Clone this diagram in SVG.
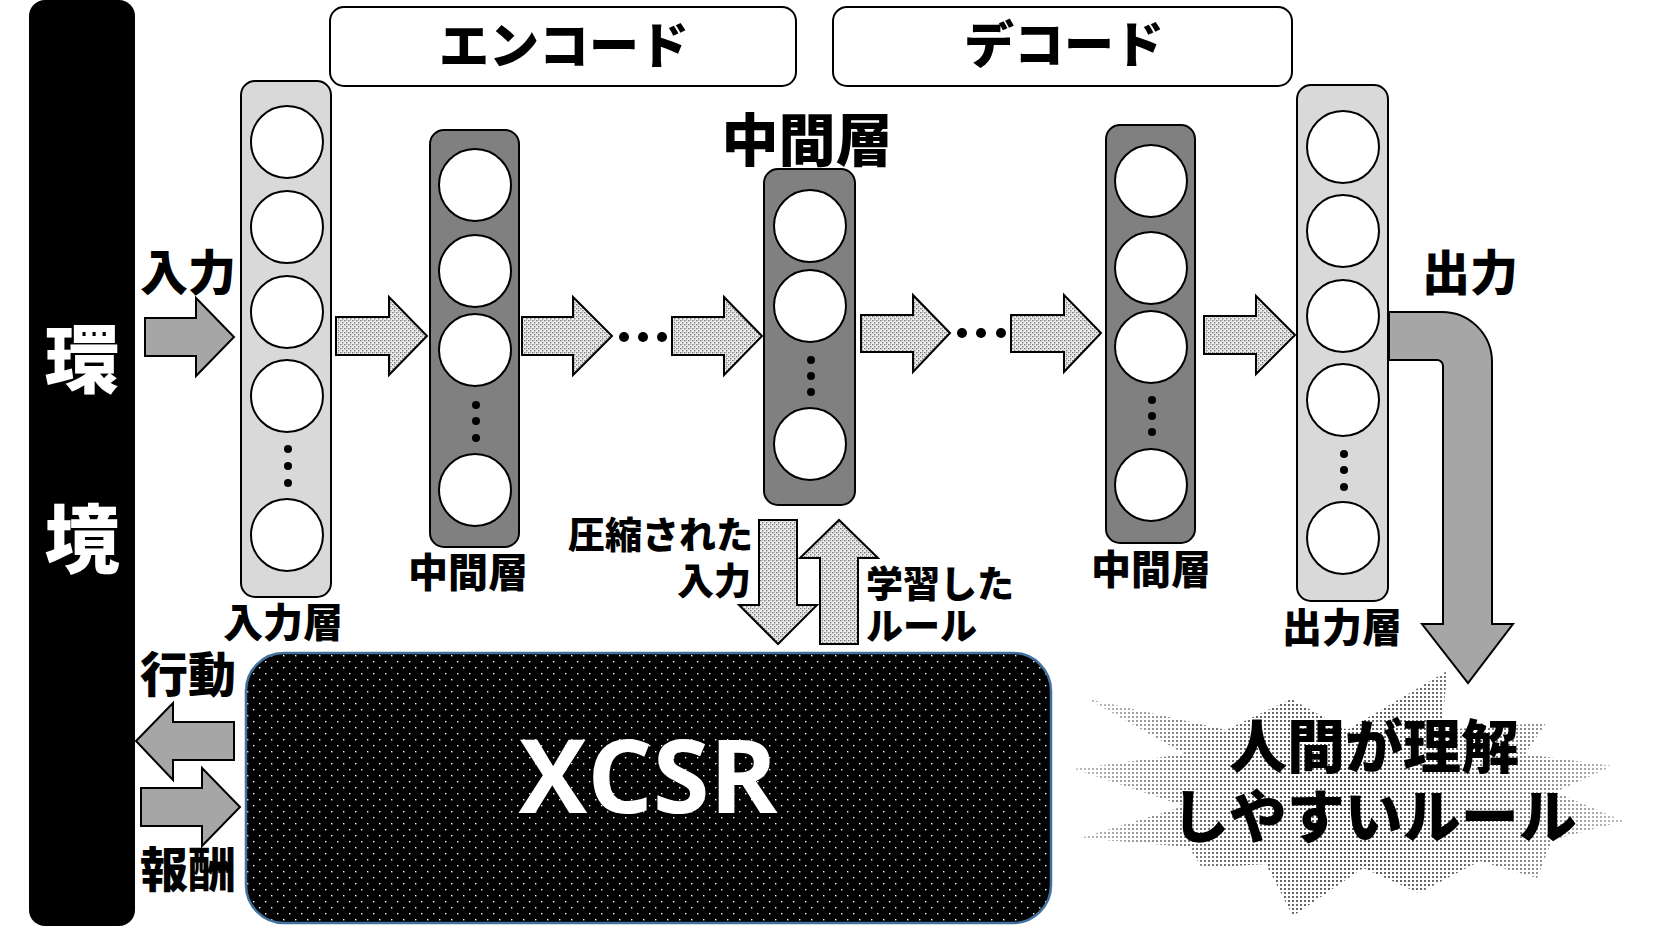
<svg xmlns="http://www.w3.org/2000/svg" width="1653" height="938" viewBox="0 0 1653 938">
<style>
.jp{font-family:"Noto Sans CJK JP","Noto Sans CJK SC",sans-serif;font-weight:900;fill:#000}
.wjp{font-family:"Noto Sans CJK JP","Noto Sans CJK SC",sans-serif;font-weight:900;fill:#fff}
.lbl{font-size:40px;text-anchor:middle}
.sm{font-size:37px}
.mid{text-anchor:middle}
.box{fill:#fff;stroke:#000;stroke-width:2}
.lt{fill:#d9d9d9;stroke:#000;stroke-width:2}
.dk{fill:#808080;stroke:#000;stroke-width:2}
.n{fill:#fff;stroke:#000;stroke-width:2}
.dot{fill:#000}
.pa{fill:url(#pArrow);stroke:#000;stroke-width:2;stroke-linejoin:miter}
.sa{fill:#a6a6a6;stroke:#000;stroke-width:2;stroke-linejoin:miter}
</style>
<defs>
<pattern id="pArrow" width="4" height="4" patternUnits="userSpaceOnUse">
<rect width="4" height="4" fill="#eeeeee"/>
<rect x="0" y="0" width="1.4" height="1.4" fill="#7a7a7a"/>
<rect x="2" y="2" width="1.4" height="1.4" fill="#7a7a7a"/>
<rect x="2" y="0" width="1" height="1" fill="#b0b0b0"/>
</pattern>
<pattern id="pX" width="12" height="12" patternUnits="userSpaceOnUse">
<rect width="12" height="12" fill="#000"/>
<rect x="1" y="1" width="1.4" height="1.4" fill="#fff"/>
<rect x="7" y="7" width="1.4" height="1.4" fill="#fff"/>
</pattern>
<pattern id="pStar" width="4" height="4" patternUnits="userSpaceOnUse">
<rect width="4" height="4" fill="#fff"/>
<rect x="0" y="0" width="2" height="2" fill="#4a4a4a"/>
</pattern>
<radialGradient id="gStar" cx="1349" cy="795" r="280" gradientUnits="userSpaceOnUse">
<stop offset="0" stop-color="#fff" stop-opacity="0"/>
<stop offset="0.5" stop-color="#fff" stop-opacity="0.2"/>
<stop offset="1" stop-color="#fff" stop-opacity="0.65"/>
</radialGradient>
</defs>
<rect width="1653" height="938" fill="#fff"/>

<g id="env">
<rect x="29" y="0" width="106" height="926" rx="16" fill="#000"/>
<text class="wjp mid" x="82" y="387" font-size="75">環</text>
<text class="wjp mid" x="82" y="567" font-size="75">境</text>
</g>

<g id="encode-label">
<rect class="box" x="330" y="7" width="466" height="79" rx="14"/>
<text class="jp mid" x="564" y="64" font-size="50">エンコード</text>
</g>
<g id="decode-label">
<rect class="box" x="833" y="7" width="459" height="79" rx="14"/>
<text class="jp mid" x="1064" y="63" font-size="50">デコード</text>
</g>

<g id="input-layer">
<rect class="lt" x="241" y="81" width="90" height="516" rx="14"/>
<circle class="n" cx="287" cy="142" r="36"/>
<circle class="n" cx="287" cy="227" r="36"/>
<circle class="n" cx="287" cy="312" r="36"/>
<circle class="n" cx="287" cy="396" r="36"/>
<circle class="dot" cx="288" cy="449" r="4"/>
<circle class="dot" cx="288" cy="466" r="4"/>
<circle class="dot" cx="288" cy="483" r="4"/>
<circle class="n" cx="287" cy="535" r="36"/>
<text class="jp lbl" x="283" y="637">入力層</text>
</g>

<g id="encoder-hidden">
<rect class="dk" x="430" y="130" width="89" height="417" rx="14"/>
<circle class="n" cx="475" cy="185" r="36"/>
<circle class="n" cx="475" cy="271" r="36"/>
<circle class="n" cx="475" cy="350" r="36"/>
<circle class="dot" cx="476" cy="405" r="4"/>
<circle class="dot" cx="476" cy="421" r="4"/>
<circle class="dot" cx="476" cy="438" r="4"/>
<circle class="n" cx="475" cy="490" r="36"/>
<text class="jp lbl" x="468" y="587">中間層</text>
</g>

<g id="center-hidden">
<text class="jp mid" x="807" y="161" font-size="57">中間層</text>
<rect class="dk" x="764" y="169" width="91" height="336" rx="14"/>
<circle class="n" cx="810" cy="226" r="36"/>
<circle class="n" cx="810" cy="306" r="36"/>
<circle class="dot" cx="811" cy="360" r="4"/>
<circle class="dot" cx="811" cy="376" r="4"/>
<circle class="dot" cx="811" cy="392" r="4"/>
<circle class="n" cx="810" cy="444" r="36"/>
</g>

<g id="decoder-hidden">
<rect class="dk" x="1106" y="125" width="89" height="418" rx="14"/>
<circle class="n" cx="1151" cy="181" r="36"/>
<circle class="n" cx="1151" cy="268" r="36"/>
<circle class="n" cx="1151" cy="347" r="36"/>
<circle class="dot" cx="1152" cy="400" r="4"/>
<circle class="dot" cx="1152" cy="416" r="4"/>
<circle class="dot" cx="1152" cy="432" r="4"/>
<circle class="n" cx="1151" cy="485" r="36"/>
<text class="jp lbl" x="1151" y="584">中間層</text>
</g>

<g id="output-layer">
<rect class="lt" x="1297" y="85" width="91" height="516" rx="14"/>
<circle class="n" cx="1343" cy="147" r="36"/>
<circle class="n" cx="1343" cy="231" r="36"/>
<circle class="n" cx="1343" cy="316" r="36"/>
<circle class="n" cx="1343" cy="400" r="36"/>
<circle class="dot" cx="1344" cy="454" r="4"/>
<circle class="dot" cx="1344" cy="470" r="4"/>
<circle class="dot" cx="1344" cy="487" r="4"/>
<circle class="n" cx="1343" cy="538" r="36"/>
<text class="jp lbl" x="1342" y="642">出力層</text>
</g>

<g id="xcsr">
<rect x="246" y="653" width="805" height="270" rx="38" fill="url(#pX)" stroke="#41719c" stroke-width="2.5"/>
<text x="648" y="813" font-family="'Open Sans','Noto Sans',sans-serif" font-weight="700" font-size="103" fill="#fff" text-anchor="middle">XCSR</text>
</g>

<g id="result-star">
<polygon fill="url(#pStar)" points="1447,671 1442,730 1546,723 1525,754 1612,766 1555,792 1623,821 1552,840 1537,878 1480,861 1419,893 1363,868 1293,916 1266,864 1202,868 1189,847 1081,838 1185,806 1075,769 1185,754 1088,699 1226,730 1291,699 1347,730"/>
<polygon fill="url(#gStar)" points="1447,671 1442,730 1546,723 1525,754 1612,766 1555,792 1623,821 1552,840 1537,878 1480,861 1419,893 1363,868 1293,916 1266,864 1202,868 1189,847 1081,838 1185,806 1075,769 1185,754 1088,699 1226,730 1291,699 1347,730"/>
<text class="jp mid" x="1374" y="768" font-size="58">人間が理解</text>
<text class="jp mid" x="1374" y="838" font-size="58">しやすいルール</text>
</g>

<g id="connectors">
<path class="sa" d="M145,318 H196 V298 L234,337 L196,376 V356 H145 Z"/>
<text class="jp mid" x="188" y="290" font-size="48">入力</text>
<path class="pa" d="M336,317 H389 V297 L427,336 L389,375 V355 H336 Z"/>
<path class="pa" d="M522,317 H573 V297 L612,336 L573,375 V355 H522 Z"/>
<circle class="dot" cx="624" cy="337" r="5"/>
<circle class="dot" cx="643" cy="337" r="5"/>
<circle class="dot" cx="662" cy="337" r="5"/>
<path class="pa" d="M672,317 H724 V297 L762,336 L724,375 V355 H672 Z"/>
<path class="pa" d="M861,315 H913 V295 L950,333 L913,372 V352 H861 Z"/>
<circle class="dot" cx="962" cy="333" r="5"/>
<circle class="dot" cx="981" cy="333" r="5"/>
<circle class="dot" cx="1001" cy="333" r="5"/>
<path class="pa" d="M1011,315 H1064 V295 L1101,333 L1064,372 V352 H1011 Z"/>
<path class="pa" d="M1204,316 H1256 V296 L1295,335 L1256,374 V354 H1204 Z"/>
<path class="sa" d="M1389,312 H1442 A50,50 0 0 1 1492,362 V624 H1513 L1468,683 L1422,624 H1443 V366 A6,6 0 0 0 1437,360 H1389 Z"/>
<text class="jp mid" x="1470" y="290" font-size="48">出力</text>
<path class="pa" d="M759,520 H797 V605 H817 L778,644 L739,605 H759 Z"/>
<path class="pa" d="M820,644 V558 H800 L839,520 L878,558 H858 V644 Z"/>
<text class="jp sm" x="753" y="549" text-anchor="end">圧縮された</text>
<text class="jp sm" x="751" y="595" text-anchor="end">入力</text>
<text class="jp sm" x="866" y="598">学習した</text>
<text class="jp sm" x="866" y="640">ルール</text>
<path class="sa" d="M234,722 H173 V703 L136,741 L173,780 V760 H234 Z"/>
<text class="jp mid" x="188" y="692" font-size="48">行動</text>
<path class="sa" d="M141,788 H202 V768 L240,807 L202,846 V826 H141 Z"/>
<text class="jp mid" x="188" y="887" font-size="48">報酬</text>
</g>
</svg>
